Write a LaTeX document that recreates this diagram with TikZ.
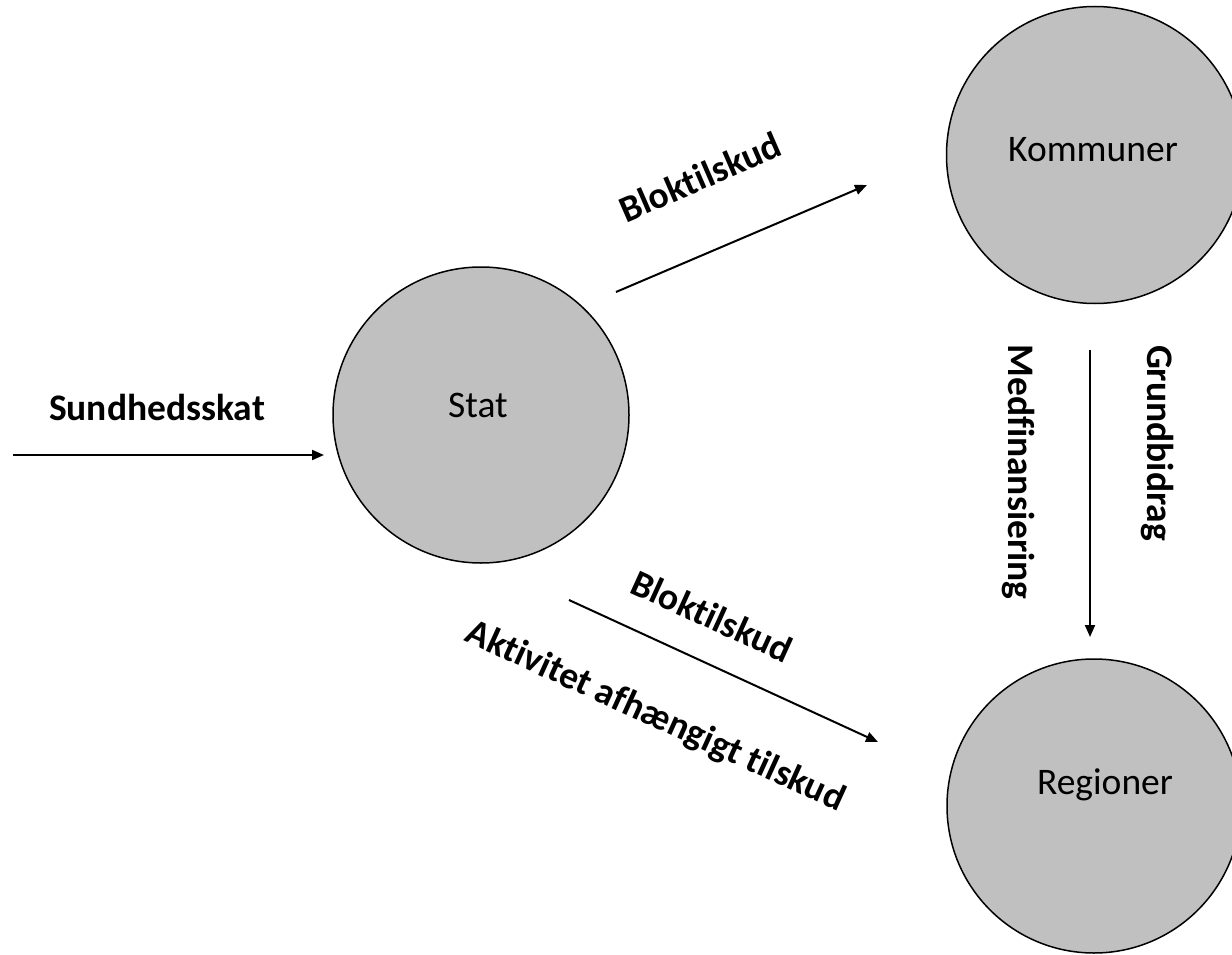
\documentclass[tikz,border=0pt]{standalone}
\usepackage{fontspec}
\setmainfont{Carlito}[Ligatures=NoCommon]
\usetikzlibrary{arrows.meta,calc}
\definecolor{circfill}{RGB}{192,192,192}
\tikzset{
  entity/.style={circle,draw=black,line width=1.5pt,fill=circfill,inner sep=0pt},
  etext/.style={font=\fontsize{37.5}{42}\selectfont,inner sep=0pt},
  flow/.style={line width=2pt,-{Triangle[length=12pt,width=10pt]}},
  flabel/.style={font=\fontsize{37.5}{42}\selectfont\bfseries,inner sep=0pt}
}
\begin{document}
\begin{tikzpicture}[x=1pt,y=-1pt]
\useasboundingbox (0,0) rectangle (1232,955);
\node[entity,minimum size=296pt] (stat) at (481,415) {};
\node[entity,minimum size=297pt] (komm) at (1095,155) {};
\node[entity,minimum size=294pt] (reg) at (1094,806) {};
\node[etext] (statt) at (478,405) {Stat};
\node[etext] (kommt) at (1093,150) {Kommuner};
\node[etext] (regt) at (1105,785) {Regioner};
\coordinate (s0) at (13,455);
\coordinate (s1) at (324,455);
\draw[flow] (s0) -- (s1);
\node[flabel] (lsund) at (157,407) {Sundhedsskat};
\coordinate (b0) at (616,292);
\coordinate (b1) at (867,185);
\draw[flow] (b0) -- (b1);
\node[flabel,rotate=23.5] (lb1) at (700,177) {Bloktilskud};
\coordinate (c0) at (569,600);
\coordinate (c1) at (878,742);
\draw[flow] (c0) -- (c1);
\node[flabel,rotate=-24.5] (lb2) at (712,616) {Bloktilskud};
\node[flabel,rotate=-24.5] (lakt) at (655,717) {Aktivitet afhængigt tilskud};
\coordinate (v0) at (1090,350);
\coordinate (v1) at (1090,637);
\draw[flow] (v0) -- (v1);
\node[flabel,rotate=-90] (lmed) at (1018,472) {Medfinansiering};
\node[flabel,rotate=-90] (lgrund) at (1157,443) {Grundbidrag};
\end{tikzpicture}
\end{document}
